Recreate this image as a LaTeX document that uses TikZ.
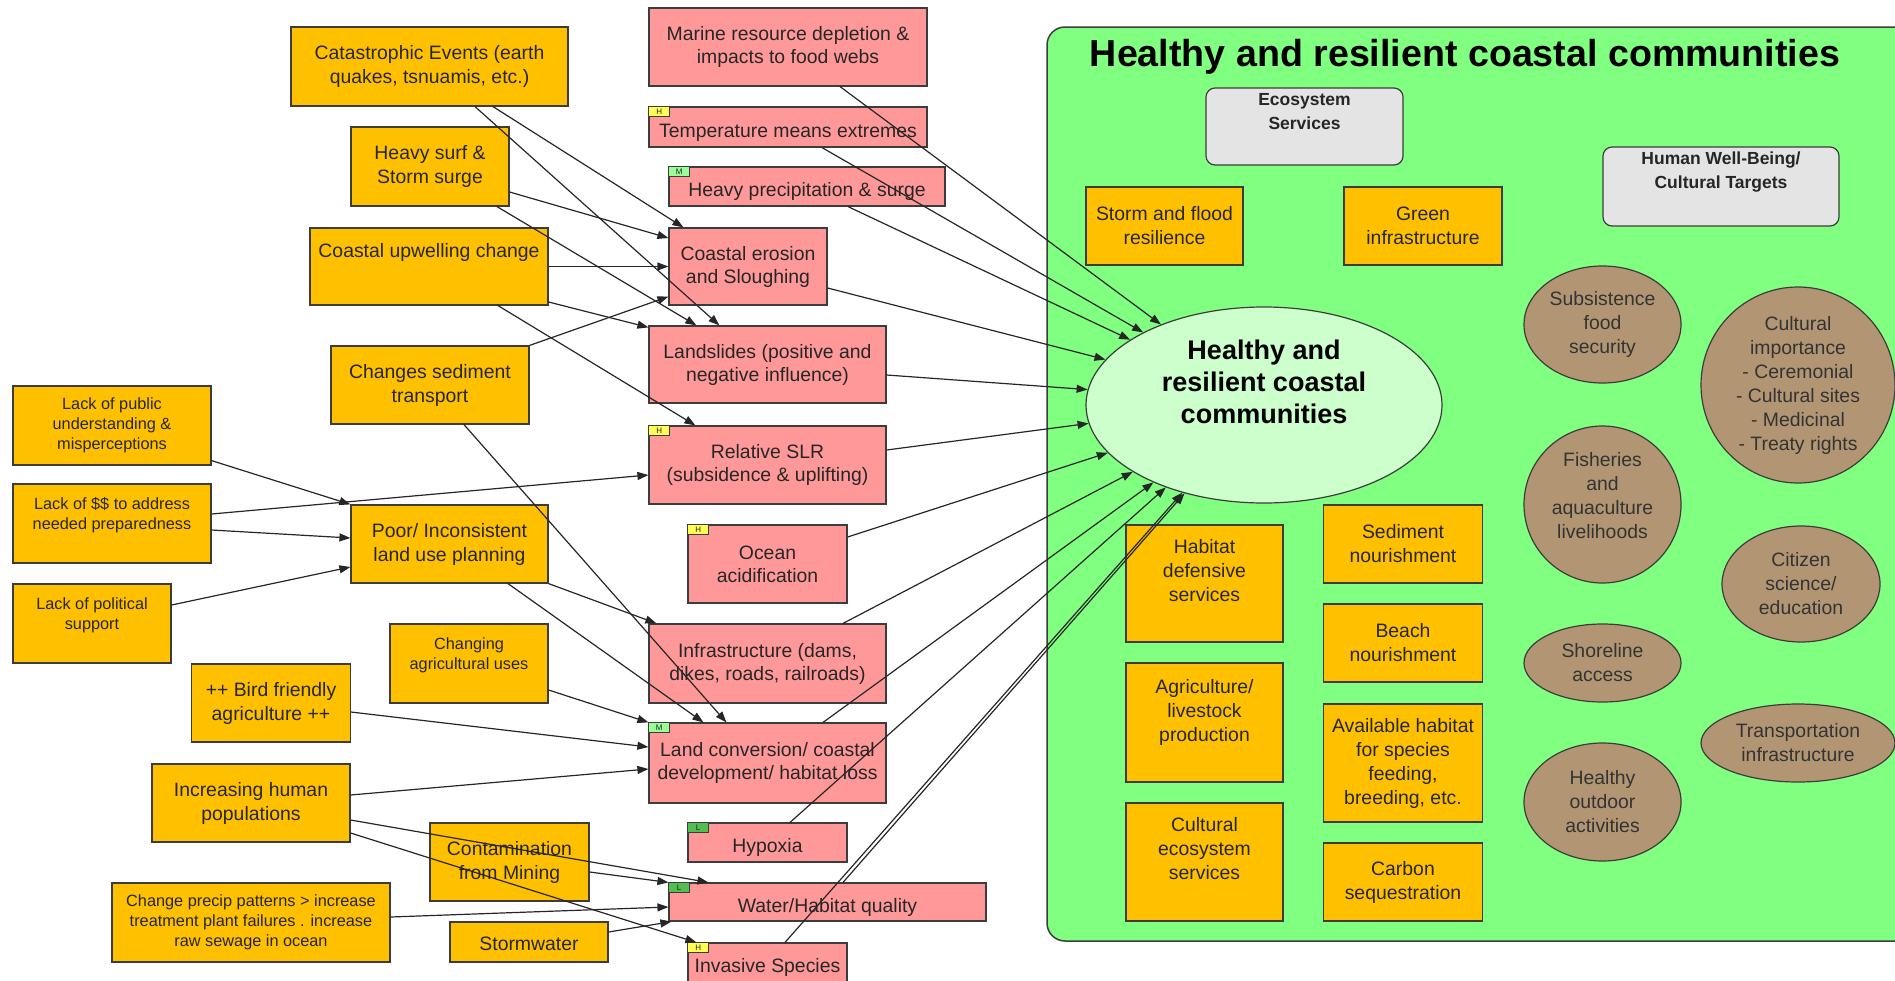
\documentclass[tikz,border=0pt]{standalone}
\usepackage{fontspec}
\setmainfont{Liberation Sans}
\usetikzlibrary{arrows.meta,shapes.geometric}

\definecolor{boxyellow}{RGB}{255,192,0}
\definecolor{boxred}{RGB}{255,153,153}
\definecolor{panelgreen}{RGB}{128,255,128}
\definecolor{goalgreen}{RGB}{204,255,204}
\definecolor{targettan}{RGB}{178,150,115}
\definecolor{headgray}{RGB}{228,228,228}
\definecolor{tagyellow}{RGB}{255,255,85}
\definecolor{tagmid}{RGB}{150,255,150}
\definecolor{taglow}{RGB}{80,190,80}
\definecolor{edgegray}{RGB}{60,60,60}

\begin{document}
\begin{tikzpicture}[x=1pt,y=-1pt,line width=1.2pt,>={Triangle[length=11pt,width=8pt]},
  every node/.style={inner sep=1pt,align=center,text=black!85},
  ybox/.style={draw=edgegray,fill=boxyellow,font=\fontsize{19.4}{24}\selectfont},
  ysmall/.style={ybox,font=\fontsize{16.3}{20}\selectfont},
  rbox/.style={draw=edgegray,fill=boxred,font=\fontsize{19.4}{23}\selectfont},
  oneline/.style={text height=24pt,text depth=4pt},
  head/.style={draw=edgegray,fill=headgray,rounded corners=9pt,font=\fontsize{17.5}{24}\selectfont\bfseries},
  target/.style={ellipse,draw=edgegray,fill=targettan,inner sep=0pt,text=black!80,font=\fontsize{19.4}{24}\selectfont},
  tag/.style={draw=edgegray,line width=0.6pt,minimum width=21pt,minimum height=10pt,inner sep=0pt,anchor=north west,font=\fontsize{8}{8}\selectfont},
  cn/.style={->,line width=1.2pt,draw=black!85}]
  \useasboundingbox (0,0) rectangle (1895,980);
  \clip (0,0) rectangle (1895,980);
  % target panel
  \draw[draw=edgegray,fill=panelgreen,rounded corners=18pt,line width=1.5pt] (1047,27) rectangle (1925,941);
  \node[text=black,font=\fontsize{37.6}{44}\selectfont\bfseries] (title) at (1465,57) {Healthy and resilient coastal communities};
  \node[head,minimum width=197pt,minimum height=77pt,text depth=31pt] (ecos) at (1304.5,126.5) {Ecosystem\\Services};
  \node[head,minimum width=236pt,minimum height=79pt,text depth=33pt] (human) at (1721,186.5) {Human Well-Being/\\Cultural Targets};
  \node[ellipse,draw=edgegray,fill=goalgreen,minimum width=356pt,minimum height=196pt,inner sep=0pt,text=black,
        font=\fontsize{27}{32}\selectfont\bfseries,text depth=46pt] (goal) at (1264,405) {Healthy and\\resilient coastal\\communities};
  % ecosystem services
  \node[ybox,minimum width=157pt,minimum height=78pt] (flood) at (1164.5,226) {Storm and flood\\resilience};
  \node[ybox,minimum width=158pt,minimum height=78pt] (green) at (1423,226) {Green\\infrastructure};
  \node[ybox,minimum width=157pt,minimum height=117pt,text depth=27pt] (habdef) at (1204.5,583.5) {Habitat\\defensive\\services};
  \node[ybox,minimum width=158.5pt,minimum height=78pt] (sedn) at (1403,544) {Sediment\\nourishment};
  \node[ybox,minimum width=158.5pt,minimum height=78pt] (beach) at (1403,643) {Beach\\nourishment};
  \node[ybox,minimum width=157pt,minimum height=119pt,text depth=25pt] (agliv) at (1204.5,722.5) {Agriculture/\\livestock\\production};
  \node[ybox,minimum width=158.5pt,minimum height=118pt] (avail) at (1403,763) {Available habitat\\for species\\feeding,\\breeding, etc.};
  \node[ybox,minimum width=157pt,minimum height=118pt,text depth=28pt] (culteco) at (1204.5,862) {Cultural\\ecosystem\\services};
  \node[ybox,minimum width=158.5pt,minimum height=78pt] (carbon) at (1403,882) {Carbon\\sequestration};
  % human well-being
  \node[target,minimum width=157pt,minimum height=117pt] (subs) at (1602.5,324.5) {Subsistence\\food\\security};
  \node[target,minimum width=194pt,minimum height=196pt] (cult) at (1798,385) {Cultural\\importance\\- Ceremonial\\- Cultural sites\\- Medicinal\\- Treaty rights};
  \node[target,minimum width=157pt,minimum height=157pt,text depth=19pt] (fish) at (1602.5,504.5) {Fisheries\\and\\aquaculture\\livelihoods};
  \node[target,minimum width=158pt,minimum height=116pt] (citizen) at (1801,584) {Citizen\\science/\\education};
  \node[target,minimum width=157pt,minimum height=78pt] (shore) at (1602.5,663) {Shoreline\\access};
  \node[target,minimum width=194pt,minimum height=78pt] (trans) at (1798,743) {Transportation\\infrastructure};
  \node[target,minimum width=157pt,minimum height=118pt] (outdoor) at (1602.5,802) {Healthy\\outdoor\\activities};
  % threats
  \node[rbox,minimum width=278pt,minimum height=78pt] (marine) at (788,47) {Marine resource depletion \&\\impacts to food webs};
  \node[rbox,oneline,minimum width=278pt,minimum height=40pt] (temp) at (788,127) {Temperature means extremes};
  \node[rbox,oneline,minimum width=276pt,minimum height=39pt] (heavy) at (807,186.5) {Heavy precipitation \& surge};
  \node[rbox,minimum width=158pt,minimum height=77pt] (eros) at (748,266.5) {Coastal erosion\\and Sloughing};
  \node[rbox,minimum width=237pt,minimum height=77pt] (slide) at (767.5,364.5) {Landslides (positive and\\negative influence)};
  \node[rbox,minimum width=237pt,minimum height=78pt] (slr) at (767.5,465) {Relative SLR\\(subsidence \& uplifting)};
  \node[rbox,minimum width=159pt,minimum height=78pt] (acid) at (767.5,564) {Ocean\\acidification};
  \node[rbox,minimum width=237pt,minimum height=79pt] (infra) at (767.5,663.5) {Infrastructure (dams,\\dikes, roads, railroads)};
  \node[rbox,minimum width=237pt,minimum height=80pt] (land) at (767.5,763) {Land conversion/ coastal\\development/ habitat loss};
  \node[rbox,oneline,minimum width=159pt,minimum height=39pt] (hyp) at (767.5,842.5) {Hypoxia};
  \node[rbox,oneline,minimum width=317pt,minimum height=38pt] (wq) at (827.5,902) {Water/Habitat quality};
  \node[rbox,oneline,minimum width=159pt,minimum height=39pt] (inv) at (767.5,962.5) {Invasive Species};
  % rank tags
  \node[tag,fill=tagyellow] (ttemp) at (temp.north west) {H};
  \node[tag,fill=tagmid] (theavy) at (heavy.north west) {M};
  \node[tag,fill=tagyellow] (tslr) at (slr.north west) {H};
  \node[tag,fill=tagyellow] (tacid) at (acid.north west) {H};
  \node[tag,fill=tagmid] (tland) at (land.north west) {M};
  \node[tag,fill=taglow] (thyp) at (hyp.north west) {L};
  \node[tag,fill=taglow] (twq) at (wq.north west) {L};
  \node[tag,fill=tagyellow] (tinv) at (inv.north west) {H};
  % drivers
  \node[ybox,minimum width=277pt,minimum height=79pt] (cat) at (429.5,66.5) {Catastrophic Events (earth\\quakes, tsnuamis, etc.)};
  \node[ybox,minimum width=158pt,minimum height=79pt] (surf) at (430,166.5) {Heavy surf \&\\Storm surge};
  \node[ybox,minimum width=238pt,minimum height=77pt,text height=14pt,text depth=33pt] (upw) at (429,266.5) {Coastal upwelling change};
  \node[ybox,minimum width=198pt,minimum height=78pt] (sed) at (430,385) {Changes sediment\\transport};
  \node[ysmall,minimum width=198pt,minimum height=79pt] (pub) at (112,425.5) {Lack of public\\understanding \&\\misperceptions};
  \node[ysmall,minimum width=198pt,minimum height=79pt,text depth=20pt] (money) at (112,523.5) {Lack of \$\$ to address\\needed preparedness};
  \node[ysmall,minimum width=158pt,minimum height=79pt,text depth=20pt] (pol) at (92,623.5) {Lack of political\\support};
  \node[ybox,minimum width=197pt,minimum height=78pt] (poor) at (449.5,544) {Poor/ Inconsistent\\land use planning};
  \node[ysmall,minimum width=158pt,minimum height=79pt,text depth=20pt] (agri) at (469,663.5) {Changing\\agricultural uses};
  \node[ybox,minimum width=158.5pt,minimum height=78pt] (bird) at (271,703) {++ Bird friendly\\agriculture ++};
  \node[ybox,minimum width=198pt,minimum height=78pt] (pop) at (251,803) {Increasing human\\populations};
  \node[ybox,minimum width=159pt,minimum height=78pt] (mine) at (509.5,862) {Contamination\\from Mining};
  \node[ysmall,minimum width=278pt,minimum height=79pt] (precip) at (251,922.5) {Change precip patterns > increase\\treatment plant failures . increase\\raw sewage in ocean};
  \node[ybox,minimum width=158pt,minimum height=40pt,text height=20pt,text depth=4pt] (storm) at (529,942) {Stormwater};
  % drivers to threats
  \draw[cn] ([shift={(63.5,0)}]cat.south) -- ([shift={(15,0)}]eros.north west);
  \draw[cn] ([shift={(45.5,0)}]cat.south) -- ([shift={(71,0)}]slide.north west);
  \draw[cn] ([shift={(0,25.5)}]surf.east) -- ([shift={(0,-28.5)}]eros.west);
  \draw[cn] ([shift={(67,0)}]surf.south) -- ([shift={(48,0)}]slide.north west);
  \draw[cn] (upw.east) -- (eros.west);
  \draw[cn] ([shift={(0,35.5)}]upw.east) -- ([shift={(0,2)}]slide.north west);
  \draw[cn] ([shift={(69,0)}]upw.south) -- ([shift={(47,0)}]slr.north west);
  \draw[cn] (sed.north east) -- ([shift={(0,-9)}]eros.south west);
  \draw[cn] ([shift={(34,0)}]sed.south) -- ([shift={(78,0)}]land.north west);
  \draw[cn] ([shift={(0,-5)}]pub.south east) -- (poor.north west);
  \draw[cn] ([shift={(0,6.5)}]money.east) -- ([shift={(0,-6)}]poor.west);
  \draw[cn] ([shift={(0,-9.5)}]money.east) -- ([shift={(0,10)}]slr.west);
  \draw[cn] ([shift={(0,-18.5)}]pol.east) -- ([shift={(0,23)}]poor.west);
  \draw[cn] (poor.south east) -- ([shift={(8,0)}]infra.north west);
  \draw[cn] ([shift={(58.5,0)}]poor.south) -- ([shift={(55,0)}]land.north west);
  \draw[cn] ([shift={(0,26.5)}]agri.east) -- (land.north west);
  \draw[cn] ([shift={(0,9)}]bird.east) -- ([shift={(0,-16)}]land.west);
  \draw[cn] ([shift={(0,-8)}]pop.east) -- ([shift={(0,6)}]land.west);
  \draw[cn] ([shift={(0,17)}]pop.east) -- ([shift={(40,0)}]wq.north west);
  \draw[cn] ([shift={(0,30)}]pop.east) -- ([shift={(9,0)}]inv.north west);
  \draw[cn] ([shift={(0,10)}]mine.east) -- (wq.north west);
  \draw[cn] ([shift={(0,-5.5)}]precip.east) -- ([shift={(0,5)}]wq.west);
  \draw[cn] ([shift={(0,-10)}]storm.east) -- ([shift={(3,0)}]wq.south west);
  % threats to target
  \draw[cn] ([shift={(52,0)}]marine.south) -- (goal.142.6);
  \draw[cn] ([shift={(34,0)}]temp.south) -- (goal.149.4);
  \draw[cn] ([shift={(41,0)}]heavy.south) -- (goal.154.7);
  \draw[cn] ([shift={(0,21.5)}]eros.east) -- (goal.164.3);
  \draw[cn] ([shift={(0,10.5)}]slide.east) -- (goal.175.4);
  \draw[cn] ([shift={(0,-15)}]slr.east) -- (goal.186.8);
  \draw[cn] ([shift={(0,-27)}]acid.east) -- (goal.197.6);
  \draw[cn] ([shift={(75.5,0)}]infra.north) -- (goal.207.4);
  \draw[cn] ([shift={(55.5,0)}]land.north) -- (goal.215);
  \draw[cn] ([shift={(22.5,0)}]hyp.north) -- (goal.220.9);
  \draw[cn] ([shift={(15.5,0)}]wq.north) -- (goal.228.1);
  \draw[cn] ([shift={(17.5,0)}]inv.north) -- (goal.227.5);
\end{tikzpicture}
\end{document}
